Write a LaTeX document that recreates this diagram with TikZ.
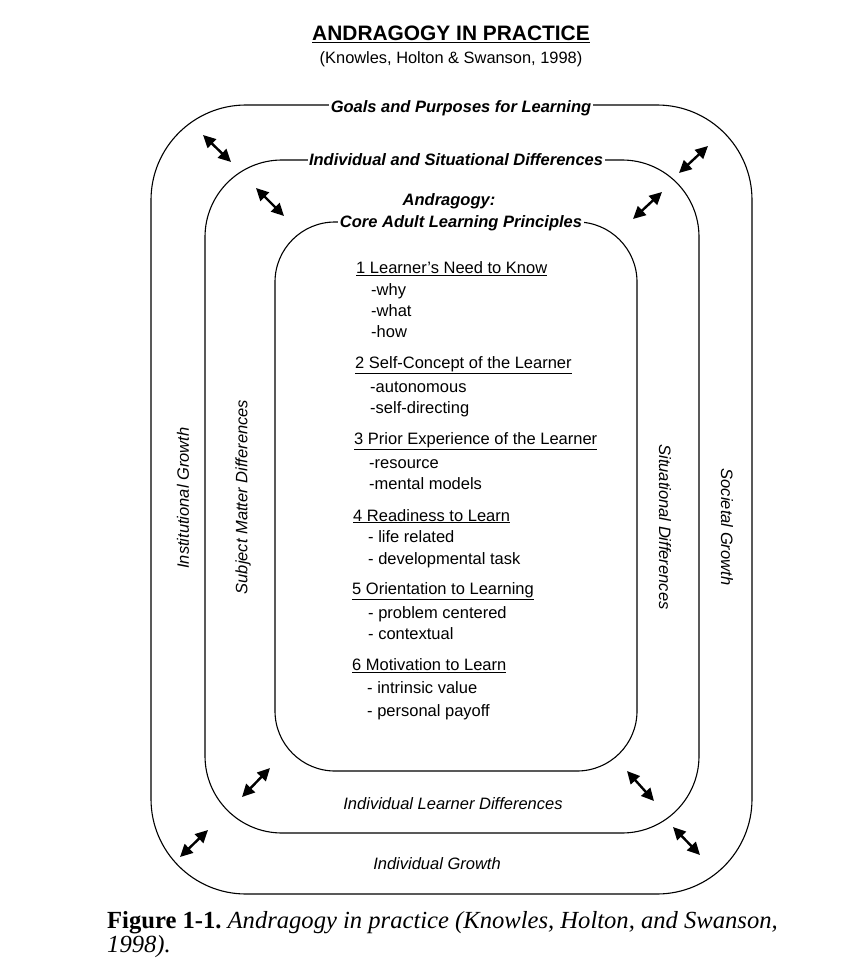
\documentclass[tikz,border=0pt]{standalone}
\usepackage{fontspec}
\setmainfont{Liberation Sans}
\newfontfamily\capfont{Liberation Serif}
\usetikzlibrary{arrows.meta}
\tikzset{
  ring/.style={draw, line width=1.1pt, minimum width=#1},
  lbl/.style={inner sep=0pt, anchor=base},
  gaplbl/.style={fill=white, inner xsep=1.5pt, inner ysep=2pt, anchor=base, font=\fontsize{16.5}{19}\selectfont\bfseries\itshape},
  itl/.style={font=\fontsize{16.5}{19}\selectfont\itshape, inner sep=0pt},
  li/.style={inner sep=0pt, anchor=base west, font=\fontsize{16.5}{19}\selectfont},
  dbl/.style={line width=2.4pt, {Triangle[length=12.5pt,width=12pt]}-{Triangle[length=12.5pt,width=12pt]}},
}
\newcommand\hd[1]{\underline{#1}}
\begin{document}
\begin{tikzpicture}[x=1pt,y=-1pt]
\useasboundingbox (0,0) rectangle (850,976);
% title
\node[lbl, font=\fontsize{20.9}{24}\selectfont\bfseries] (title) at (451,40.5) {\underline{ANDRAGOGY IN PRACTICE}};
\node[lbl, font=\fontsize{16.4}{19}\selectfont] (sub) at (451,64) {(Knowles, Holton \& Swanson, 1998)};
% rings
\node[ring=601pt, minimum height=789pt, rounded corners=95pt] (outer) at (451.5,499.5) {};
\node[ring=494pt, minimum height=673pt, rounded corners=77pt] (middle) at (452,496.5) {};
\node[ring=362pt, minimum height=549pt, rounded corners=60pt] (inner) at (456,496.5) {};
% labels on the ring lines
\node[gaplbl] (goals) at (461,112.5) {Goals and Purposes for Learning};
\node[gaplbl] (isd) at (456,166) {Individual and Situational Differences};
\node[lbl, font=\fontsize{16.5}{19}\selectfont\bfseries\itshape] (andr) at (449,206) {Andragogy:};
\node[gaplbl] (core) at (461,227.5) {Core Adult Learning Principles};
% side labels
\node[itl, rotate=90] (instg) at (183,498) {Institutional Growth};
\node[itl, rotate=90] (subj) at (243,497) {Subject Matter Differences};
\node[itl, rotate=-90] (sitd) at (665,527) {Situational Differences};
\node[itl, rotate=-90] (socg) at (727,527) {Societal Growth};
\node[itl, anchor=base] (ild) at (453,809) {Individual Learner Differences};
\node[itl, anchor=base] (indg) at (437,869) {Individual Growth};
% principles
\node[li] (p1) at (356,273.5) {\hd{1 Learner's Need to Know}};
\node[li] (p1a) at (371,295.5) {-why};
\node[li] (p1b) at (371,316) {-what};
\node[li] (p1c) at (371,337.5) {-how};
\node[li] (p2) at (355,368) {\hd{2 Self-Concept of the Learner}};
\node[li] (p2a) at (370,392) {-autonomous};
\node[li] (p2b) at (370,413) {-self-directing};
\node[li] (p3) at (354,444.5) {\hd{3 Prior Experience of the Learner}};
\node[li] (p3a) at (369,468) {-resource};
\node[li] (p3b) at (369,489) {-mental models};
\node[li] (p4) at (353,521) {\hd{4 Readiness to Learn}};
\node[li] (p4a) at (368,542.5) {- life related};
\node[li] (p4b) at (368,564.5) {- developmental task};
\node[li] (p5) at (352,594) {\hd{5 Orientation to Learning}};
\node[li] (p5a) at (368,618) {- problem centered};
\node[li] (p5b) at (368,639) {- contextual};
\node[li] (p6) at (352,670.5) {\hd{6 Motivation to Learn}};
\node[li] (p6a) at (367,693.5) {- intrinsic value};
\node[li] (p6b) at (367,716) {- personal payoff};
% arrows
\coordinate (a1s) at (203,135); \coordinate (a1e) at (231,162);
\coordinate (a2s) at (256,188); \coordinate (a2e) at (284,216);
\coordinate (a3s) at (708,146); \coordinate (a3e) at (679,173);
\coordinate (a4s) at (662,192); \coordinate (a4e) at (633,219);
\coordinate (a5s) at (270,768); \coordinate (a5e) at (242,797);
\coordinate (a6s) at (208,830); \coordinate (a6e) at (180,857);
\coordinate (a7s) at (627,771); \coordinate (a7e) at (654,801);
\coordinate (a8s) at (673,827); \coordinate (a8e) at (700,855);
\foreach \i in {1,...,8} \draw[dbl] (a\i s) -- (a\i e);
% caption
\node[inner sep=0pt, anchor=base west, font=\capfont\fontsize{24.6}{28}\selectfont] (cap1) at (107,928) {\textbf{Figure 1-1.}\ \textit{Andragogy in practice (Knowles, Holton, and Swanson,}};
\node[inner sep=0pt, anchor=base west, font=\capfont\fontsize{24.6}{28}\selectfont\itshape] (cap2) at (107,952) {1998).};
\end{tikzpicture}
\end{document}
